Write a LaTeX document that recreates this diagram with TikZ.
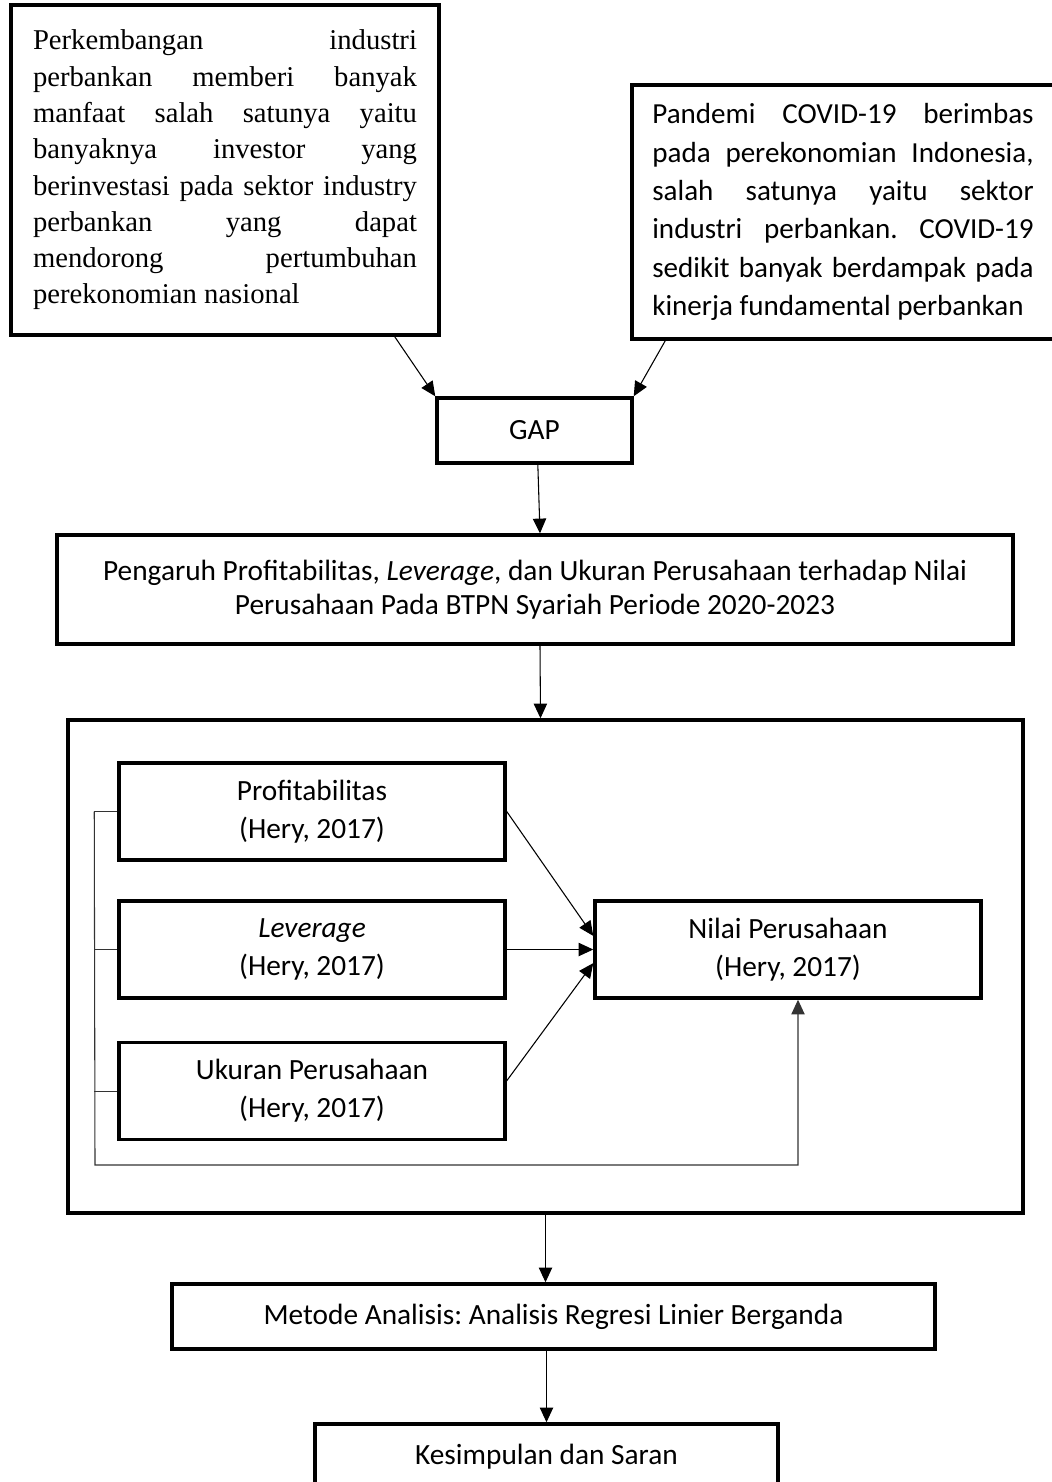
\documentclass[tikz,border=0pt]{standalone}
\usepackage{fontspec}
\setmainfont{Carlito}
\newfontfamily\timesfont{Liberation Serif}
\usetikzlibrary{arrows.meta}
\frenchspacing

\tikzset{
    kotak/.style={draw, line width=2.6pt, inner sep=0pt, align=center,
        font=\fontsize{22}{28.5}\selectfont},
    panah/.style={-{Triangle[length=11pt,width=10pt]}, line width=0.8pt},
    garis/.style={line width=0.75pt, draw=black!80}
}

\begin{document}
\begin{tikzpicture}[x=0.75pt, y=-0.75pt]

        \useasboundingbox (0,0) rectangle (1052,1482);

        \node[kotak, minimum width=321pt, minimum height=247.5pt, text width=288pt, align=justify,
            font=\timesfont\fontsize{21.5}{27.2}\selectfont]
            (latar) at (225,170) {\hyphenpenalty=10000\relax\tolerance=10000\relax
            Perkembangan industri\linebreak perbankan memberi banyak\linebreak
            manfaat salah satunya yaitu\linebreak banyaknya investor yang\linebreak
            berinvestasi pada sektor industry\linebreak perbankan yang dapat\linebreak
            mendorong pertumbuhan\linebreak perekonomian nasional};
        \node[kotak, minimum width=316.5pt, minimum height=190.5pt, text width=286pt, align=justify,
            font=\fontsize{21.8}{28.8}\selectfont]
            (pandemi) at (843,212) {\hyphenpenalty=10000\relax\tolerance=10000\relax
            Pandemi COVID-19 berimbas\linebreak pada perekonomian Indonesia,\linebreak
            salah satunya yaitu sektor\linebreak industri perbankan. COVID-19\linebreak
            sedikit banyak berdampak pada\linebreak kinerja fundamental perbankan};

        \node[kotak, minimum width=146.25pt, minimum height=48.75pt] (gap) at (534.5,430.5) {GAP};
        \node[kotak, minimum width=717pt, minimum height=81.75pt, font=\fontsize{22}{25.5}\selectfont]
            (pengaruh) at (535,589.5) {Pengaruh Profitabilitas, \textit{Leverage}, dan Ukuran Perusahaan terhadap Nilai\\
            Perusahaan Pada BTPN Syariah Periode 2020-2023};

        \node[kotak, minimum width=716.25pt, minimum height=369.75pt] (bingkai) at (545.5,966.5) {};
        \node[kotak, minimum width=289.5pt, minimum height=72.75pt] (prof) at (312,811.5) {Profitabilitas\\(Hery, 2017)};
        \node[kotak, minimum width=289.5pt, minimum height=72.75pt] (lev) at (312,949.5) {\textit{Leverage}\\(Hery, 2017)};
        \node[kotak, minimum width=289.5pt, minimum height=72.75pt] (ukuran) at (312,1091) {Ukuran Perusahaan\\(Hery, 2017)};
        \node[kotak, minimum width=289.5pt, minimum height=72.75pt] (nilai) at (788,949.5) {Nilai Perusahaan\\(Hery, 2017)};

        \node[kotak, minimum width=572.25pt, minimum height=48.75pt] (metode) at (553.5,1316.5)
            {Metode Analisis: Analisis Regresi Linier Berganda};
        \node[kotak, minimum width=347.25pt, minimum height=48.75pt] (kesimpulan) at (546.5,1456.5)
            {Kesimpulan dan Saran};

        \draw[panah] (latar.south east) ++(-46,0) -- (gap.north west);
        \draw[panah] (pandemi.south west) ++(35,0) -- (gap.north east);
        \draw[panah] ([xshift=2.5pt]gap.south) -- ([xshift=3.75pt]pengaruh.north);
        \draw[panah] ([xshift=3.75pt]pengaruh.south) -- ([xshift=-3.75pt]bingkai.north);

        \draw[panah] (prof.east) -- (nilai.176);
        \draw[panah] (lev.east) -- (nilai.west);
        \draw[panah] (ukuran.3) -- (nilai.184);

        \draw[garis] (prof.west) -- ++(-23,0) coordinate (kiri);
        \draw[garis] (lev.west) -- ++(-23,0);
        \draw[garis] (ukuran.west) -- ++(-23,0);
        \coordinate (bawah) at (95,1165);
        \draw[garis, panah] (kiri) -- (bawah) -| ([xshift=7.5pt]nilai.south);

        \draw[panah] (bingkai.south) -- ([xshift=-6pt]metode.north);
        \draw[panah] ([xshift=-5.25pt]metode.south) -- (kesimpulan.north);

    \end{tikzpicture}
\end{document}
